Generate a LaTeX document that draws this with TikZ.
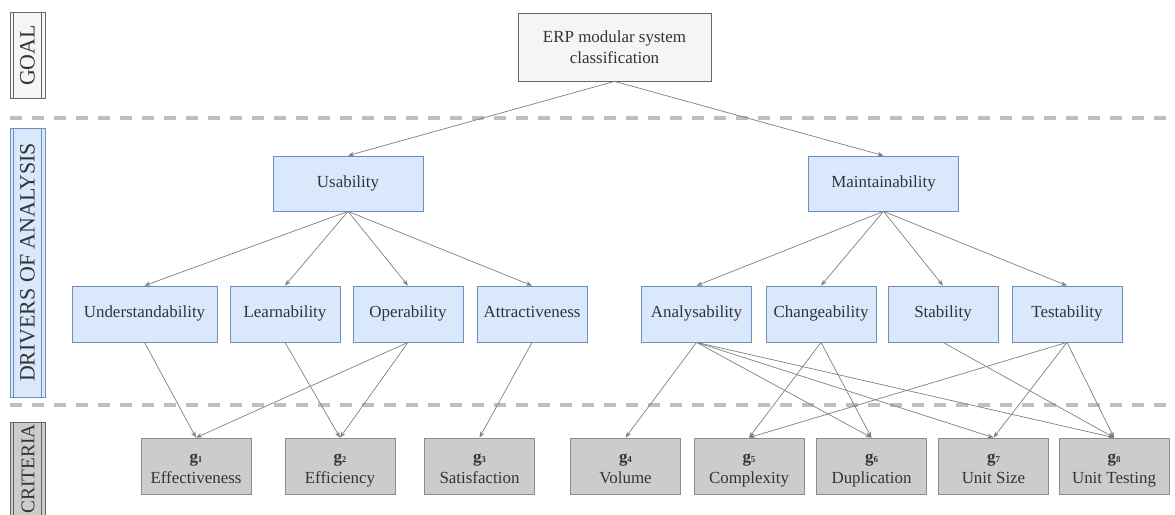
\documentclass[tikz,border=0pt]{standalone}
\usepackage{fontspec}
\setmainfont{Liberation Serif}
\usetikzlibrary{arrows.meta}
\definecolor{txt}{HTML}{333333}
\definecolor{goalfill}{HTML}{F5F5F5}
\definecolor{goalline}{HTML}{666666}
\definecolor{bluefill}{HTML}{DAE8FC}
\definecolor{blueline}{HTML}{6C8EBF}
\definecolor{grayfill}{HTML}{CCCCCC}
\definecolor{grayline}{HTML}{8C8C8C}
\definecolor{linec}{HTML}{808080}
\definecolor{sepc}{HTML}{BFBFBF}
\newcommand{\gsub}[1]{\textbf{g}{\fontsize{9}{9}\selectfont\bfseries #1}}
\begin{document}
\begin{tikzpicture}[x=1bp,y=-1bp,
  base/.style={draw, line width=0.75bp, font=\fontsize{17}{20.5}\selectfont, text=txt, inner sep=0pt, align=center},
  goalbox/.style={base, fill=goalfill, draw=goalline, minimum width=193bp, minimum height=68bp},
  drvbox/.style={base, fill=bluefill, draw=blueline, minimum width=110bp, minimum height=56bp, text height=11.5bp, text depth=3.5bp},
  topdrv/.style={drvbox, minimum width=150bp, minimum height=55bp},
  critbox/.style={base, fill=grayfill, draw=grayline, minimum width=110bp, minimum height=56bp, text height=38bp, text depth=4bp},
  link/.style={draw=linec, line width=0.7bp, -{Stealth[length=6bp,width=4.5bp]}},
  sepline/.style={draw=sepc, line width=4bp, dash pattern=on 12bp off 10bp},
  lab/.style={draw, line width=0.75bp, inner sep=0pt, text=txt, minimum width=35bp},
  labtext/.style={inner sep=0pt, text=txt, font=\fontsize{22}{22}\selectfont},
  labinner/.style={draw, line width=0.75bp},
]
\clip (0,0) rectangle (1175,515);
\fill[white] (0,0) rectangle (1175,515);

% separators
\draw[sepline] (10,118) -- (1175,118);
\draw[sepline] (10,405) -- (1175,405);

% left labels
\node[lab, fill=goalfill, draw=goalline, minimum height=86bp] (lgoal) at (27.5,55.5) {};
\node[lab, fill=bluefill, draw=blueline, minimum height=269bp] (ldrv) at (27.5,262.5) {};
\node[lab, fill=grayfill, draw=goalline, minimum height=113bp] (lcrit) at (27.5,478.5) {};
\foreach \n/\c in {lgoal/goalline, ldrv/blueline, lcrit/goalline}{
  \draw[labinner, draw=\c] ([xshift=4bp]\n.north west) -- ([xshift=4bp]\n.south west);
  \draw[labinner, draw=\c] ([xshift=-4bp]\n.north east) -- ([xshift=-4bp]\n.south east);
}
\node[labtext, rotate=90] (tgoal) at (lgoal.center) {GOAL};
\node[labtext, rotate=90] (tdrv) at (ldrv.center) {DRIVERS OF ANALYSIS};
\node[labtext, rotate=90, font=\fontsize{19.5}{19.5}\selectfont] (tcrit) at (28,469) {CRITERIA};

% goal
\node[goalbox] (erp) at (614.5,47) {ERP modular system\\classification};

% drivers
\node[topdrv] (usa) at (348,183.5) {Usability};
\node[topdrv] (mai) at (883.5,183.5) {Maintainability};

\node[drvbox, minimum width=145bp] (und) at (144.5,314) {Understandability};
\node[drvbox] (lea) at (285,314) {Learnability};
\node[drvbox] (ope) at (408,314) {Operability};
\node[drvbox] (att) at (532,314) {Attractiveness};
\node[drvbox] (ana) at (696.5,314) {Analysability};
\node[drvbox] (cha) at (821,314) {Changeability};
\node[drvbox] (sta) at (943,314) {Stability};
\node[drvbox] (tes) at (1067,314) {Testability};

% criteria
\node[critbox] (g1) at (196,466) {\gsub{1}\\Effectiveness};
\node[critbox] (g2) at (340,466) {\gsub{2}\\Efficiency};
\node[critbox] (g3) at (479.5,466) {\gsub{3}\\Satisfaction};
\node[critbox] (g4) at (625.5,466) {\gsub{4}\\Volume};
\node[critbox] (g5) at (749,466) {\gsub{5}\\Complexity};
\node[critbox] (g6) at (871.5,466) {\gsub{6}\\Duplication};
\node[critbox] (g7) at (993.5,466) {\gsub{7}\\Unit Size};
\node[critbox] (g8) at (1114,466) {\gsub{8}\\Unit Testing};

% links
\foreach \a/\b in {erp/usa, erp/mai,
  usa/und, usa/lea, usa/ope, usa/att,
  mai/ana, mai/cha, mai/sta, mai/tes,
  und/g1, lea/g2, ope/g1, ope/g2, att/g3,
  ana/g4, ana/g6, ana/g7, ana/g8,
  cha/g5, cha/g6, sta/g8,
  tes/g5, tes/g7, tes/g8}
  \draw[link] (\a.south) -- (\b.north);
\end{tikzpicture}
\end{document}
